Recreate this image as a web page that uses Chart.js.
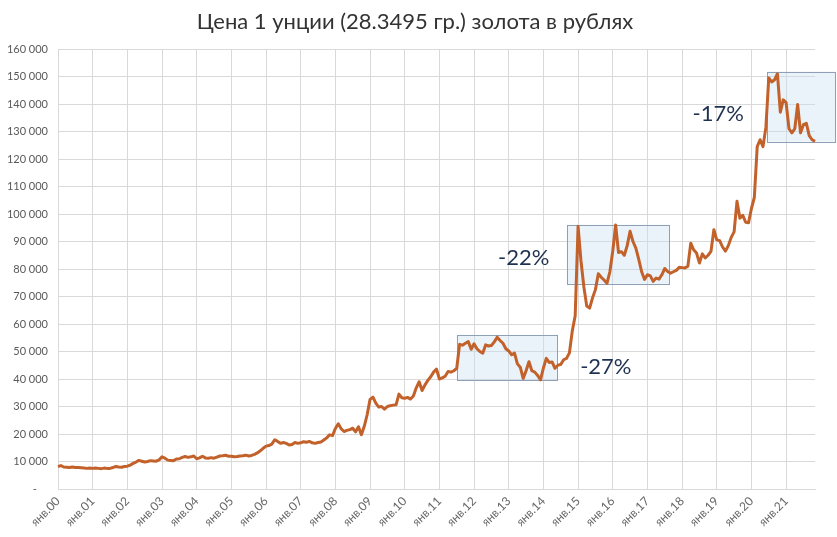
<!DOCTYPE html>
<html>
<head>
<meta charset="utf-8">
<script src="https://cdn.jsdelivr.net/npm/chart.js@4"></script>
<style>
  body { margin: 0; background: #fff; }
  #wrap { width: 837px; height: 537px; }
</style>
</head>
<body>
<div id="wrap"><canvas id="grafico" width="837" height="537"></canvas></div>
<script>
// месячные значения, руб. за унцию
const gold2000 = [8200, 8500, 8000, 7900, 7800, 8000, 7800, 7800, 7700, 7600, 7500, 7600];
const gold2001 = [7500, 7600, 7500, 7400, 7600, 7500, 7500, 7800, 8200, 8000, 7900, 8200];
const gold2002 = [8300, 8700, 9300, 9800, 10400, 10100, 9800, 10000, 10300, 10200, 10100, 10600];
const gold2003 = [11700, 11200, 10500, 10400, 10300, 10900, 11000, 11500, 11800, 11500, 11700, 12000];
const gold2004 = [11000, 11300, 11900, 11300, 11200, 11400, 11200, 11600, 12000, 12100, 12300, 11900];
const gold2005 = [11900, 11700, 11800, 12000, 12100, 12300, 12000, 12200, 12600, 13100, 13900, 14800];
const gold2006 = [15600, 15800, 16300, 17900, 17300, 16600, 16900, 16600, 16000, 16200, 16900, 16600];
const gold2007 = [16800, 17200, 17000, 17300, 16800, 16600, 16900, 17100, 17800, 18600, 19700, 19400];
const gold2008 = [22000, 23700, 21900, 20900, 21300, 21600, 22100, 20800, 22600, 19700, 22800, 27000];
const gold2009 = [32600, 33400, 31200, 29800, 30000, 29000, 30000, 30300, 30500, 30600, 34500, 33200];
const gold2010 = [33000, 33300, 32700, 33800, 36800, 39000, 35800, 37800, 39500, 40800, 42500, 43600];
const gold2011 = [40000, 40400, 41000, 42700, 42500, 43000, 43900, 52600, 52300, 53000, 53600, 50800];
const gold2012 = [52800, 51000, 50000, 49400, 52400, 52000, 52200, 53500, 55200, 54000, 53000, 51000];
const gold2013 = [50200, 48800, 49400, 45500, 44300, 40200, 43000, 46300, 43000, 42500, 41300, 39700];
const gold2014 = [44000, 47500, 46000, 46200, 43900, 45000, 45300, 47000, 47500, 49500, 57500, 63000];
const gold2015 = [95500, 83000, 73500, 66500, 65800, 69500, 72500, 78300, 77000, 76000, 74800, 79000];
const gold2016 = [86500, 96000, 86000, 86300, 85000, 88500, 93700, 90000, 87600, 83500, 79000, 76200];
const gold2017 = [77900, 77500, 75500, 76700, 76300, 77900, 80200, 79100, 78500, 79000, 79500, 80600];
const gold2018 = [80500, 80400, 81000, 89400, 87000, 85800, 82200, 85500, 84000, 85000, 86400, 94300];
const gold2019 = [90600, 90300, 88000, 86500, 88500, 91500, 93500, 104600, 98500, 99500, 97000, 96800];
const gold2020 = [102000, 106000, 124500, 127000, 124500, 131500, 149500, 148000, 148800, 151000, 137000, 141500];
const gold2021 = [140500, 131000, 129500, 131000, 139800, 129500, 132500, 133000, 128500, 127000, 126400];

const years = ['00', '01', '02', '03', '04', '05', '06', '07', '08', '09', '10',
               '11', '12', '13', '14', '15', '16', '17', '18', '19', '20', '21'];
const monthNames = ['янв', 'фев', 'мар', 'апр', 'май', 'июн', 'июл', 'авг', 'сен', 'окт', 'ноя', 'дек'];

// рамки падений: месяц начала/конца (индекс), нижняя/верхняя цена
const dropText = ['-27%', '-22%', '-17%'];
const dropFrom = [138, 176.1, 245.4];
const dropTo = [172.7, 211.5, 269];
const dropLow = [39700, 74600, 126300];
const dropHigh = [55900, 96100, 151800];
const dropTextMonth = [189.6, 161.2, 228.5];
const dropTextValue = [44400, 84100, 136500];

const titulo = 'Цена 1 унции (28.3495 гр.) золота в рублях';

const prices = [].concat(gold2000, gold2001, gold2002, gold2003, gold2004, gold2005,
    gold2006, gold2007, gold2008, gold2009, gold2010, gold2011, gold2012, gold2013,
    gold2014, gold2015, gold2016, gold2017, gold2018, gold2019, gold2020, gold2021);

const labels = [];
years.forEach(yy => monthNames.forEach(mm => labels.push(mm + '.' + yy)));
labels.length = prices.length;

function formatRub(v) {
    if (v === 0) return '-    ';
    return String(v).replace(/\B(?=(\d{3})+(?!\d))/g, ' ');
}

// рамки под линией, подписи и заголовок поверх
const extras = {
    id: 'extras',
    beforeDatasetsDraw(chart) {
        const ctx = chart.ctx;
        const x = chart.scales.x, y = chart.scales.y;
        ctx.save();
        dropText.forEach((t, i) => {
            const l = x.getPixelForValue(dropFrom[i]);
            const r = x.getPixelForValue(dropTo[i]);
            const top = y.getPixelForValue(dropHigh[i]);
            const bot = y.getPixelForValue(dropLow[i]);
            ctx.fillStyle = 'rgba(200, 222, 242, 0.38)';
            ctx.fillRect(l, top, r - l, bot - top);
            ctx.strokeStyle = '#8ea0b8';
            ctx.lineWidth = 1;
            ctx.strokeRect(Math.round(l) + 0.5, Math.round(top) + 0.5, Math.round(r - l), Math.round(bot - top));
        });
        ctx.restore();
    },
    afterDraw(chart) {
        const ctx = chart.ctx;
        const x = chart.scales.x, y = chart.scales.y;
        ctx.save();
        ctx.textAlign = 'center';
        ctx.textBaseline = 'middle';
        ctx.fillStyle = '#1f3151';
        ctx.font = '22px Lato';
        dropText.forEach((t, i) => {
            ctx.fillText(t, x.getPixelForValue(dropTextMonth[i]), y.getPixelForValue(dropTextValue[i]));
        });
        ctx.fillStyle = '#333333';
        ctx.font = '22px Lato';
        ctx.fillText(titulo, 415, 22);
        ctx.restore();
    }
};

Chart.defaults.font.family = 'Lato';

new Chart(document.getElementById('grafico'), {
    type: 'line',
    data: {
        labels: labels,
        datasets: [{
            data: prices,
            borderColor: '#c2612a',
            borderWidth: 3,
            pointRadius: 0,
            tension: 0,
            borderJoinStyle: 'round'
        }]
    },
    options: {
        responsive: false,
        animation: false,
        layout: { padding: { top: 49, right: 22, left: 0, bottom: 0 } },
        plugins: {
            legend: { display: false },
            tooltip: { enabled: false }
        },
        scales: {
            x: {
                offset: false,
                afterFit: s => { s.height = 48; },
                grid: { color: '#d9d9d9', drawTicks: false },
                border: { color: '#d9d9d9' },
                ticks: {
                    autoSkip: false,
                    maxRotation: 45,
                    minRotation: 45,
                    padding: 5,
                    color: '#666666',
                    font: { size: 12 },
                    callback: function (val, idx) {
                        return idx % 12 === 0 ? this.getLabelForValue(val) : null;
                    }
                }
            },
            y: {
                min: 0,
                max: 160000,
                afterFit: s => { s.width = 58; },
                grid: { color: '#d9d9d9', drawTicks: false },
                border: { color: '#d9d9d9' },
                ticks: {
                    stepSize: 10000,
                    padding: 10,
                    color: '#595959',
                    font: { size: 11 },
                    callback: formatRub
                }
            }
        }
    },
    plugins: [extras]
});
</script>
</body>
</html>
